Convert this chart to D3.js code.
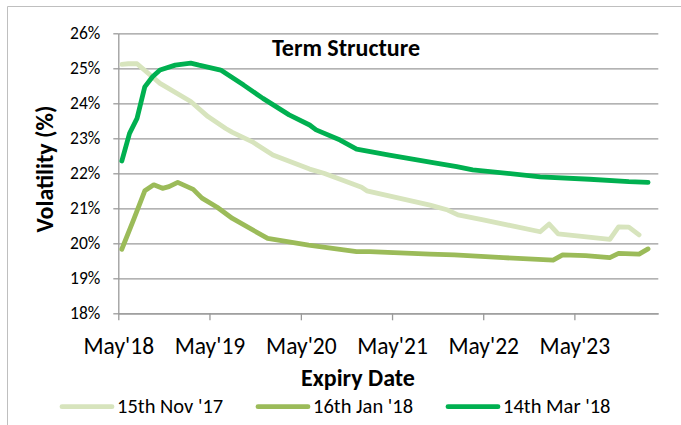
<!DOCTYPE html>
<html><head><meta charset="utf-8">
<script src="https://cdn.jsdelivr.net/npm/d3@7"></script>
<style>body{margin:0;background:#fff} text{font-family:Carlito,Lato,sans-serif;fill:#000}</style>
</head><body><svg id="c" width="681" height="425"></svg>
<script>
const seriesNames = ["15th Nov '17", "16th Jan '18", "14th Mar '18"];
const seriesColors = ["#D7E4BD", "#9BBB59", "#00B050"];

const nov17Dates = ["2018-05-15","2018-06-10","2018-07-15","2018-10-15","2019-02-15","2019-04-25","2019-07-05","2019-08-01","2019-10-20","2020-01-10","2020-06-05","2020-08-01","2020-10-05","2020-12-30","2021-01-20","2021-09-30","2021-12-10","2022-01-20","2022-05-01","2022-12-15","2023-01-20","2023-02-25","2023-09-20","2023-10-25","2023-12-05","2024-01-15"];
const nov17Values = [25.11,25.13,25.13,24.57,24.05,23.62,23.28,23.17,22.90,22.52,22.12,22.00,21.83,21.60,21.50,21.09,20.95,20.81,20.67,20.33,20.55,20.27,20.11,20.47,20.46,20.24];

const jan18Dates = ["2018-05-15","2018-07-01","2018-08-15","2018-09-20","2018-10-25","2018-11-20","2018-12-25","2019-01-25","2019-02-25","2019-04-01","2019-06-01","2019-08-01","2019-12-20","2020-06-01","2020-12-10","2021-02-01","2021-09-30","2022-01-05","2022-07-20","2023-02-05","2023-03-15","2023-06-15","2023-09-20","2023-10-25","2024-01-15","2024-02-20"];
const jan18Values = [19.83,20.67,21.50,21.67,21.57,21.62,21.74,21.64,21.54,21.29,21.03,20.71,20.14,19.95,19.76,19.76,19.69,19.67,19.59,19.52,19.67,19.65,19.59,19.71,19.69,19.84];

const mar18Dates = ["2018-05-15","2018-06-15","2018-07-15","2018-08-15","2018-09-15","2018-10-15","2018-12-15","2019-02-15","2019-03-20","2019-06-15","2019-09-15","2019-12-01","2020-03-15","2020-06-05","2020-07-01","2020-10-05","2020-12-10","2021-04-20","2021-09-30","2022-01-15","2022-03-20","2022-12-15","2023-07-01","2023-12-05","2024-02-20"];
const mar18Values = [22.35,23.14,23.57,24.47,24.76,24.95,25.09,25.15,25.09,24.95,24.52,24.14,23.67,23.38,23.24,22.95,22.69,22.52,22.32,22.19,22.10,21.90,21.83,21.76,21.74];

const xDomain = ["2018-05-01", "2024-04-01"];
const xTickDates = ["2018-05-01","2019-05-01","2020-05-01","2021-05-01","2022-05-01","2023-05-01"];
const xTickLabels = ["May'18","May'19","May'20","May'21","May'22","May'23"];
const yTickValues = [18,19,20,21,22,23,24,25,26];
const yTickLabels = ["18%","19%","20%","21%","22%","23%","24%","25%","26%"];

const parse = d3.timeParse("%Y-%m-%d");
const series = [
  {name: seriesNames[0], color: seriesColors[0], pts: nov17Dates.map((d,i)=>({x:parse(d), y:nov17Values[i]}))},
  {name: seriesNames[1], color: seriesColors[1], pts: jan18Dates.map((d,i)=>({x:parse(d), y:jan18Values[i]}))},
  {name: seriesNames[2], color: seriesColors[2], pts: mar18Dates.map((d,i)=>({x:parse(d), y:mar18Values[i]}))}
];

const svg = d3.select("#c");
const L = 118.3, R = 658.3, T = 33.3, B = 313.3;
const x = d3.scaleTime().domain(xDomain.map(parse)).range([L, R]);
const y = d3.scaleLinear().domain([18, 26]).range([B, T]);

// chart border
svg.append("path").attr("d", `M7.5,425 V6.5 H681`).attr("fill","none").attr("stroke","#BFBFBF").attr("stroke-width",1);

const gridColor = "#9A9A9A";
// gridlines
const grid = svg.append("g").attr("transform", `translate(${L},0)`)
  .call(d3.axisLeft(y).tickValues(yTickValues).tickSize(-(R-L)).tickFormat(""));
grid.select(".domain").remove();
grid.selectAll("line").attr("stroke", gridColor).attr("stroke-width", 1.3);

// y axis with labels
const ya = svg.append("g").attr("transform", `translate(${L},0)`)
  .call(d3.axisLeft(y).tickValues(yTickValues).tickSize(5).tickSizeOuter(0).tickPadding(13)
    .tickFormat((d,i)=>yTickLabels[i]));
ya.select(".domain").attr("stroke", gridColor).attr("stroke-width", 1.3);
ya.selectAll("line").attr("stroke", gridColor).attr("stroke-width", 1.3);
ya.selectAll("text").style("font-size","17.5px").attr("fill","#000");

// x axis
const xa = svg.append("g").attr("transform", `translate(0,${B})`)
  .call(d3.axisBottom(x).tickValues(xTickDates.map(parse)).tickSize(7).tickSizeOuter(0).tickPadding(17)
    .tickFormat((d,i)=>xTickLabels[i]));
xa.select(".domain").attr("stroke", gridColor).attr("stroke-width", 1.3);
xa.selectAll("line").attr("stroke", gridColor).attr("stroke-width", 1.3);
xa.selectAll("text").style("font-size","23.5px").attr("fill","#000");

// lines
const line = d3.line().x(d=>x(d.x)).y(d=>y(d.y));
svg.append("g").selectAll("path").data(series).join("path")
  .attr("d", d=>line(d.pts)).attr("fill","none").attr("stroke", d=>d.color)
  .attr("stroke-width", 4.8).attr("stroke-linejoin","round").attr("stroke-linecap","round");

// title
svg.append("text").attr("x", 346).attr("y", 55.5).attr("text-anchor","middle")
  .style("font-size","24px").style("font-weight","bold").text("Term Structure");
// axis titles
svg.append("text").attr("x", 358).attr("y", 386).attr("text-anchor","middle")
  .style("font-size","24px").style("font-weight","bold").text("Expiry Date");
svg.append("text").attr("transform","translate(53,169) rotate(-90)").attr("text-anchor","middle")
  .style("font-size","24px").style("font-weight","bold").text("Volatility (%)");

// legend
const legX = [62, 258, 448];
const leg = svg.append("g").selectAll("g").data(series).join("g")
  .attr("transform", (d,i)=>`translate(${legX[i]},0)`);
leg.append("line").attr("x1",0).attr("x2",50).attr("y1",406.7).attr("y2",406.7)
  .attr("stroke", d=>d.color).attr("stroke-width",4.8).attr("stroke-linecap","round");
leg.append("text").attr("x",55).attr("y",412.5).style("font-size","20.5px").text(d=>d.name);
</script></body></html>
